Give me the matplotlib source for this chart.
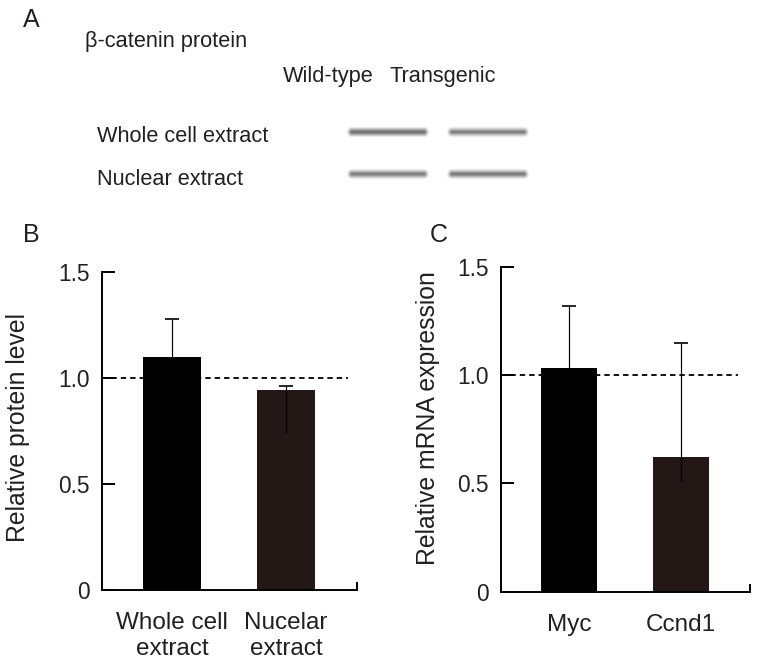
import matplotlib
matplotlib.use("Agg")
import matplotlib.pyplot as plt
import numpy as np

plt.rcParams['font.family'] = ['Liberation Sans', 'DejaVu Sans']
TXT = '#231f20'
plt.rcParams['text.color'] = TXT

# ---------------- data ----------------
lanes = ["Wild-type", "Transgenic"]
blot_rows = ["Whole cell extract", "Nuclear extract"]
band_intensity = [[0.95, 0.80], [0.80, 0.85]]

b_categories = ["Whole cell\nextract", "Nucelar\nextract"]
b_values = [1.10, 0.943]
b_err_low = [0.18, 0.203]
b_err_high = [0.18, 0.019]

c_categories = ["Myc", "Ccnd1"]
c_values = [1.031, 0.622]
c_err_low = [0.287, 0.114]
c_err_high = [0.287, 0.526]

yticks = [0, 0.5, 1.0, 1.5]
ytick_labels = ["0", "0.5", "1.0", "1.5"]
bar_colors = ["#000000", "#231815"]

W, H = 757, 665
fig = plt.figure(figsize=(W / 100, H / 100), dpi=100)


def px_axes(left, top, right, bottom):
    return fig.add_axes([left / W, 1 - bottom / H, (right - left) / W, (bottom - top) / H])


def ftext(x, y, s, size, **kw):
    fig.text(x / W, 1 - y / H, s, fontsize=size, color=TXT, va='baseline', ha='left', **kw)


# ---------------- panel A ----------------
ftext(23, 26.7, "A", 18)
ftext(85, 46.7, "β-catenin protein", 15.7)
ftext(283, 81.7, lanes[0], 15.7)
ftext(390, 81.7, lanes[1], 15.7)
ftext(97, 141.7, blot_rows[0], 15.7)
ftext(97, 185, blot_rows[1], 15.7)

axA = px_axes(338, 110.5, 538, 195.2)
axA.set_xlim(-0.5, 1.5)
axA.set_ylim(1.5, -0.5)
axA.axis('off')
for r in range(len(blot_rows)):
    for l in range(len(lanes)):
        a = band_intensity[r][l]
        for lw, al in [(7.5, 0.10), (6.0, 0.16), (4.5, 0.22), (3.0, 0.30), (1.6, 0.32)]:
            axA.plot([l - 0.36, l + 0.36], [r, r], color='#3a3a3a', lw=lw,
                     alpha=al * a, solid_capstyle='round')


# ---------------- bar panels ----------------
def bar_panel(ax, cats, vals, lo, hi, ylabel, xlim, dash_end, label_xy):
    x = np.arange(len(cats))
    vals = np.array(vals)
    ax.hlines(1.0, xlim[0], dash_end, colors='k', lw=1.3, linestyles=(0, (3, 2.2)), zorder=1)
    ax.bar(x, vals, width=0.505, color=bar_colors, zorder=2)
    ax.vlines(x, vals - np.array(lo), vals + np.array(hi), colors='k', lw=0.85, zorder=3)
    ax.plot(x, vals + np.array(hi), ls='none', marker='_', ms=9.4, mew=1.2, color='k', zorder=3)
    ax.set_xlim(*xlim)
    ax.set_ylim(0, 1.5)
    ax.set_yticks(yticks)
    ax.set_yticklabels(ytick_labels)
    ax.set_xticks(x)
    ax.set_xticklabels(cats, linespacing=1.25)
    ax.tick_params(axis='y', direction='in', length=9.4, width=1.4, pad=8.6,
                   labelsize=16.4, colors='k', labelcolor=TXT)
    ax.tick_params(axis='x', length=0, pad=16, labelsize=17.5, labelcolor=TXT)
    ax.spines['top'].set_visible(False)
    for s in ['left', 'bottom', 'right']:
        ax.spines[s].set_linewidth(1.4)
    ax.spines['right'].set_bounds(0, 0.033)
    ax.set_ylabel(ylabel, fontsize=17.8, va='center', color=TXT)
    ax.yaxis.set_label_coords(*label_xy)


axB = px_axes(102, 272, 357, 590)
bar_panel(axB, b_categories, b_values, b_err_low, b_err_high, "Relative protein level",
          (-0.613, 1.622), 1.543, (-0.33, 0.511))
ftext(23, 242, "B", 18)

axC = px_axes(500.7, 266.7, 750, 591.7)
bar_panel(axC, c_categories, c_values, c_err_low, c_err_high, "Relative mRNA expression",
          (-0.61, 1.616), 1.509, (-0.293, 0.533))
ftext(430, 242, "C", 18)

fig.savefig("out.png", dpi=100)
